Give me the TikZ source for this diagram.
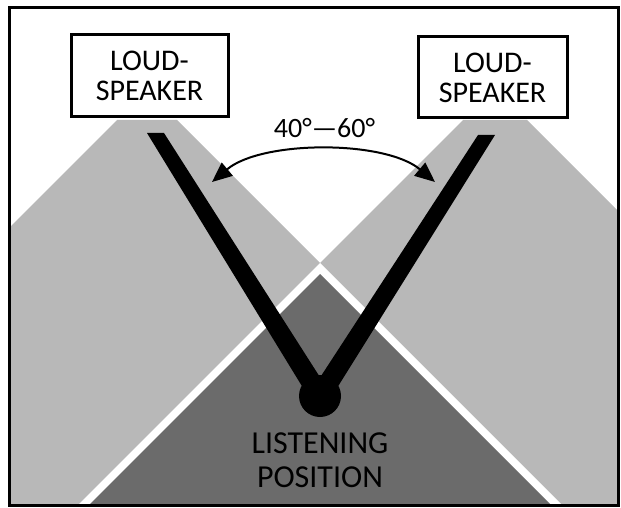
\documentclass[tikz,border=0pt]{standalone}
\usepackage{fontspec}
\setmainfont{Carlito}
\usetikzlibrary{arrows.meta}
\definecolor{conelight}{gray}{0.72}
\definecolor{conedark}{gray}{0.42}
\tikzset{
  spkbox/.style={draw, line width=3pt, fill=white, inner sep=0pt, align=center,
    font=\fontsize{30}{30}\selectfont},
  beam/.style={fill=black},
  lbl/.style={font=\fontsize{28}{28}\selectfont, inner sep=0pt},
  poslbl/.style={font=\fontsize{32}{34}\selectfont, align=center, inner sep=0pt},
  arc/.style={line width=2pt, {Triangle[length=20pt,width=17pt]}-{Triangle[length=20pt,width=17pt]}}
}
\begin{document}
\begin{tikzpicture}[x=1pt,y=-1pt]
\useasboundingbox (0,0) rectangle (621,508);
% light cones
\fill[conelight] (117,120) -- (177,120) -- (562,505) -- (10,505) -- (10,227) -- cycle;
\fill[conelight] (463,120) -- (527,120) -- (617,210) -- (617,505) -- (78,505) -- cycle;
% overlap: white gap and dark region
\fill[white] (320,263) -- (562,505) -- (78,505) -- cycle;
\fill[conedark] (320,274) -- (551,505) -- (89,505) -- cycle;
% speakers
\node[spkbox, minimum width=157pt, minimum height=82pt] (lspk) at (149.5,76) {LOUD-\\SPEAKER};
\node[spkbox, minimum width=149pt, minimum height=81pt] (rspk) at (492.5,77.5) {LOUD-\\SPEAKER};
% listener
\node[circle, fill=black, minimum size=42pt, inner sep=0pt] (listener) at (320,396) {};
\coordinate (ltop) at (155.5,133);
\coordinate (rtop) at (486.5,135);
\fill[beam] ([xshift=-8.5pt]ltop) -- ([xshift=8.5pt]ltop) -- ([xshift=12pt]listener.center) -- ([xshift=-12pt]listener.center) -- cycle;
\fill[beam] ([xshift=-8.5pt]rtop) -- ([xshift=8.5pt]rtop) -- ([xshift=12pt]listener.center) -- ([xshift=-12pt]listener.center) -- cycle;
\node[poslbl] (pos) at (320,460) {LISTENING\\POSITION};
% angle
\node[lbl] (ang) at (324.5,128) {40°—60°};
\coordinate (al) at (212,182);
\coordinate (ar) at (435,182);
\draw[arc] (al) .. controls (262,140) and (385,140) .. (ar);
% frame
\draw[line width=3pt] (9,8) rectangle (618,505);
\end{tikzpicture}
\end{document}
